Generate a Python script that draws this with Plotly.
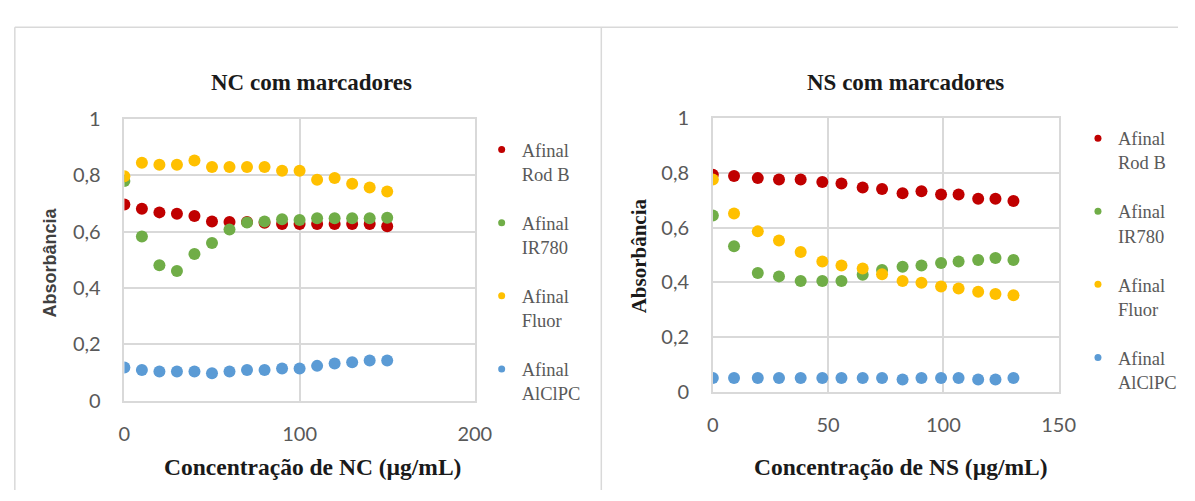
import plotly.graph_objects as go

W, H = 1195, 501

# ---------------- data ----------------
series_names = ["Afinal<br>Rod B", "Afinal<br>IR780", "Afinal<br>Fluor", "Afinal<br>AlClPC"]
series_colors = ["#C00000", "#70AD47", "#FFC000", "#5B9BD5"]

nc_x = [0, 10, 20, 30, 40, 50, 60, 70, 80, 90, 100, 110, 120, 130, 140, 150]
nc_rodb = [0.697, 0.682, 0.669, 0.664, 0.656, 0.637, 0.635, 0.635, 0.632, 0.628, 0.628, 0.628, 0.628, 0.628, 0.628, 0.620]
nc_ir780 = [0.780, 0.583, 0.481, 0.461, 0.521, 0.560, 0.608, 0.633, 0.637, 0.645, 0.642, 0.648, 0.648, 0.648, 0.648, 0.650]
nc_fluor = [0.797, 0.845, 0.838, 0.838, 0.853, 0.830, 0.830, 0.830, 0.830, 0.817, 0.817, 0.785, 0.791, 0.771, 0.757, 0.743]
nc_alclpc = [0.118, 0.109, 0.104, 0.104, 0.104, 0.098, 0.104, 0.109, 0.109, 0.115, 0.115, 0.124, 0.132, 0.137, 0.143, 0.143]

ns_x = [0, 9.2, 19.5, 28.7, 38.1, 47.5, 55.8, 65, 73.4, 82.3, 90.5, 99, 106.6, 115.1, 122.6, 130.4]
ns_rodb = [0.792, 0.788, 0.780, 0.775, 0.775, 0.766, 0.760, 0.746, 0.740, 0.725, 0.732, 0.720, 0.720, 0.705, 0.705, 0.697]
ns_ir780 = [0.644, 0.532, 0.434, 0.422, 0.405, 0.405, 0.405, 0.428, 0.445, 0.457, 0.462, 0.471, 0.476, 0.482, 0.489, 0.482]
ns_fluor = [0.775, 0.651, 0.586, 0.553, 0.511, 0.476, 0.462, 0.451, 0.430, 0.405, 0.399, 0.385, 0.378, 0.366, 0.358, 0.353]
ns_alclpc = [0.052, 0.052, 0.052, 0.052, 0.052, 0.052, 0.052, 0.052, 0.052, 0.046, 0.052, 0.052, 0.052, 0.046, 0.046, 0.052]

nc_title = "NC com marcadores"
ns_title = "NS com marcadores"
nc_xtitle = "Concentração de NC (µg/mL)"
ns_xtitle = "Concentração de NS (µg/mL)"
y_title = "Absorbância"
y_ticks = [0, 0.2, 0.4, 0.6, 0.8, 1]
nc_xticks = [0, 100, 200]
ns_xticks = [0, 50, 100, 150]


def px(x):
    return x / W


def py(y):
    return 1 - y / H


fig = go.Figure()

nc_series = [nc_rodb, nc_ir780, nc_fluor, nc_alclpc]
ns_series = [ns_rodb, ns_ir780, ns_fluor, ns_alclpc]

for vals, name, col in zip(nc_series, series_names, series_colors):
    fig.add_trace(go.Scatter(x=nc_x, y=vals, mode="markers", name=name, showlegend=False,
                             marker=dict(size=12, color=col), xaxis="x", yaxis="y"))
for vals, name, col in zip(ns_series, series_names, series_colors):
    fig.add_trace(go.Scatter(x=ns_x, y=vals, mode="markers", name=name, showlegend=False,
                             marker=dict(size=12, color=col), xaxis="x2", yaxis="y2"))

# legend entries (small symbols, as in the reference)
for i, (name, col) in enumerate(zip(series_names, series_colors)):
    fig.add_trace(go.Scatter(x=[None], y=[None], mode="markers", name=name, legend="legend",
                             legendgroup="a%d" % i, marker=dict(size=7, color=col),
                             xaxis="x", yaxis="y"))
    fig.add_trace(go.Scatter(x=[None], y=[None], mode="markers", name=name, legend="legend2",
                             legendgroup="b%d" % i, marker=dict(size=7, color=col),
                             xaxis="x2", yaxis="y2"))

grid = "#D9D9D9"
tickfont = dict(family="Lato", size=20, color="#595959")
axis_common = dict(showgrid=True, gridcolor=grid, gridwidth=1.5, showline=True, mirror=True,
                   linecolor=grid, linewidth=1.5, zeroline=False, tickfont=tickfont,
                   ticks="", fixedrange=True)

legend_common = dict(font=dict(family="Liberation Serif", size=18.5, color="#595959"),
                     bgcolor="rgba(0,0,0,0)", borderwidth=0, valign="top",
                     tracegroupgap=22, xanchor="left", yanchor="top",
                     itemclick=False, itemdoubleclick=False)

fig.update_layout(
    width=W, height=H, autosize=False,
    margin=dict(l=0, r=0, t=0, b=0),
    paper_bgcolor="white", plot_bgcolor="white",
    separators=",.",
    xaxis=dict(domain=[px(120.7), px(478)], range=[0, 200], tickvals=nc_xticks,
               anchor="y", ticklabelstandoff=14, **axis_common),
    yaxis=dict(domain=[py(407.3), py(111.5)], range=[0, 1], tickvals=y_ticks,
               anchor="x", ticklabelstandoff=18, **axis_common),
    xaxis2=dict(domain=[px(720.7), px(1073.3)], range=[0, 150], tickvals=ns_xticks,
                anchor="y2", ticklabelstandoff=14, **axis_common),
    yaxis2=dict(domain=[py(398.3), py(110)], range=[0, 1], tickvals=y_ticks,
                anchor="x2", ticklabelstandoff=18, **axis_common),
    legend=dict(x=px(485), y=py(124), **legend_common),
    legend2=dict(x=px(1093), y=py(112), **legend_common),
)

title_font = dict(family="Liberation Serif", size=23, color="#1a1a1a")
axt_font = dict(family="Liberation Serif", size=23.5, color="#1a1a1a")

annotations = [
    dict(text="<b>%s</b>" % nc_title, x=px(311), y=py(73), font=title_font),
    dict(text="<b>%s</b>" % ns_title, x=px(917), y=py(73), font=title_font),
    dict(text="<b>%s</b>" % nc_xtitle, x=px(313), y=py(477), font=axt_font),
    dict(text="<b>%s</b>" % ns_xtitle, x=px(913), y=py(477), font=axt_font),
    dict(text="<b>%s</b>" % y_title, x=px(45), y=py(262), textangle=-90,
         font=dict(family="Liberation Sans", size=18, color="#404040")),
    dict(text="<b>%s</b>" % y_title, x=px(645), y=py(255), textangle=-90,
         font=dict(family="Liberation Serif", size=21, color="#1a1a1a")),
]
for a in annotations:
    a.update(xref="paper", yref="paper", showarrow=False, xanchor="center", yanchor="middle")
fig.update_layout(annotations=annotations)

frame = dict(type="line", xref="paper", yref="paper", line=dict(color="#D9D9D9", width=1.5))
fig.update_layout(shapes=[
    dict(x0=px(9), x1=px(9), y0=py(15), y1=0, **frame),
    dict(x0=px(9), x1=1, y0=py(15), y1=py(15), **frame),
    dict(x0=px(607), x1=px(607), y0=py(15), y1=0, **frame),
])

fig.write_html("out.html", post_script="document.body.style.margin='0';document.body.style.overflow='hidden';")
